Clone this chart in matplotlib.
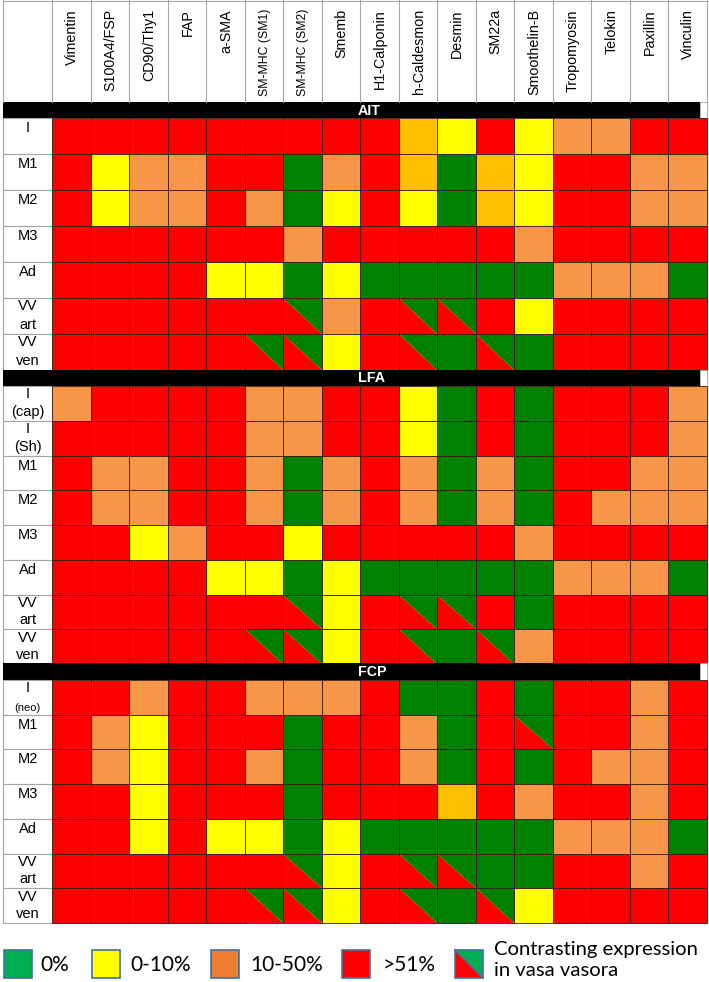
import matplotlib.pyplot as plt
from matplotlib.patches import Rectangle, Polygon

plt.rcParams["font.family"] = ["Liberation Sans", "DejaVu Sans"]

# marker columns
markers = ["Vimentin", "S100A4/FSP", "CD90/Thy1", "FAP", "a-SMA", "SM-MHC (SM1)",
           "SM-MHC (SM2)", "Smemb", "H1-Calponin", "h-Caldesmon", "Desmin", "SM22a",
           "Smoothelin-B", "Tropomyosin", "Telokin", "Paxillin", "Vinculin"]

# R = >51%, O = 10-50%, A = amber, Y = 0-10%, G = 0%, S = contrasting (vasa vasora)
ait_rows = ["I", "M1", "M2", "M3", "Ad", "VV\nart", "VV\nven"]
ait = ["RRRRRRRRRAYRYOORR",
       "RYOORRGORAGAYRROO",
       "RYOOROGYRYGAYRROO",
       "RRRRRRORRRRRORRRR",
       "RRRRYYGYGGGGGOOOG",
       "RRRRRRSORSSRYRRRR",
       "RRRRRSSYRSGSGRRRR"]

lfa_rows = ["I\n(cap)", "I\n(Sh)", "M1", "M2", "M3", "Ad", "VV\nart", "VV\nven"]
lfa = ["ORRRROORRYGRGRRRO",
       "RRRRROORRYGRGRRRO",
       "ROORROGOROGOGRROO",
       "ROORROGOROGOGROOO",
       "RRYORRYRRRRRORRRR",
       "RRRRYYGYGGGGGOOOG",
       "RRRRRRSYRSSRGRRRR",
       "RRRRRSSYRSGSORRRR"]

fcp_rows = ["I\n(neo)", "M1", "M2", "M3", "Ad", "VV\nart", "VV\nven"]
fcp = ["RRORROOORGGRGRROR",
       "ROYRRRGRROGRSRROR",
       "ROYRROGRROGRGROOR",
       "RRYRRRGRRRARORROR",
       "RRYRYYGYGGGGGOOOG",
       "RRRRRRSYRSSGGRROR",
       "RRRRRSSYRSGSYRRRR"]

legend_labels = ["0%", "0-10%", "10-50%", ">51%", "Contrasting expression\nin vasa vasora"]

colors = {"R": "#FF0000", "O": "#F79646", "A": "#FFC000", "Y": "#FFFF00", "G": "#008000"}
legend_colors = ["#00B050", "#FFFF00", "#ED7D31", "#FF0000"]

fig = plt.figure(figsize=(7.09, 9.82), dpi=100)
ax = fig.add_axes([0, 0, 1, 1])
ax.set_xlim(0, 709)
ax.set_ylim(982, 0)
ax.axis("off")

x_lab, x0, cw = 3, 52, 38.5
x_end = x0 + cw * len(markers)
gray = "#A6A6A6"

# header
for i, m in enumerate(markers):
    cx = x0 + cw * (i + 0.5) + 1
    fs = 8.8 if m.startswith("SM-MHC") else 10.3
    ax.text(cx, 9, m, rotation=90, ha="center", va="top", fontsize=fs)
for i in range(len(markers) + 1):
    ax.plot([x0 + cw * i] * 2, [0, 102], color=gray, lw=0.8)
ax.plot([x_lab, x_lab], [0, 102], color=gray, lw=0.8)
ax.plot([x_lab, x_end], [0.5, 0.5], color=gray, lw=0.8)


def draw_section(name, rows, data, bar_top, bar_bot, y_end):
    ax.add_patch(Rectangle((x_lab, bar_top), 700 - x_lab, bar_bot - bar_top, color="black", lw=0))
    ax.add_patch(Rectangle((700, bar_top), x_end - 700, bar_bot - bar_top, fc="white", ec=gray, lw=0.6))
    ax.text(358, (bar_top + bar_bot) / 2 + 0.5, name, color="white", fontweight="bold",
            fontsize=10.3, ha="left", va="center")
    rh = (y_end - bar_bot) / len(rows)
    for r, (lab, codes) in enumerate(zip(rows, data)):
        y = bar_bot + r * rh
        ax.add_patch(Rectangle((x_lab, y), x0 - x_lab, rh, fc="white", ec=gray, lw=0.8))
        parts = lab.split("\n")
        if len(parts) == 1:
            ax.text((x_lab + x0) / 2, y + 3, lab, ha="center", va="top", fontsize=10.5)
        else:
            sub_fs = 8 if parts[1] == "(neo)" else 10.5
            ax.text((x_lab + x0) / 2, y + 1.5, parts[0], ha="center", va="top", fontsize=10.5)
            ax.text((x_lab + x0) / 2, y + rh - 2, parts[1], ha="center", va="bottom",
                    fontsize=sub_fs)
        for c, code in enumerate(codes):
            x = x0 + c * cw
            if code == "S":
                ax.add_patch(Polygon([(x, y), (x, y + rh), (x + cw, y + rh)], fc=colors["R"], lw=0))
                ax.add_patch(Polygon([(x, y), (x + cw, y), (x + cw, y + rh)], fc=colors["G"], lw=0))
                ax.add_patch(Rectangle((x, y), cw, rh, fill=False, ec="#3a1a1a", lw=0.6))
            else:
                ax.add_patch(Rectangle((x, y), cw, rh, fc=colors[code], ec="#3a1a1a", lw=0.6))


draw_section("AIT", ait_rows, ait, 102, 118, 370)
draw_section("LFA", lfa_rows, lfa, 370, 386, 664)
draw_section("FCP", fcp_rows, fcp, 663, 680, 923)

# legend
sq_x = [4, 92, 211, 342, 455]
txt_x = [40, 130, 250, 383, 494]
sq_top, sq_h, sq_w = 950, 28, 28
for i, lab in enumerate(legend_labels):
    x = sq_x[i]
    if i < 4:
        ax.add_patch(Rectangle((x, sq_top), sq_w, sq_h, fc=legend_colors[i], ec="#41719C", lw=1.2))
    else:
        ax.add_patch(Polygon([(x, sq_top), (x, sq_top + sq_h), (x + sq_w, sq_top + sq_h)],
                             fc="#FF0000", lw=0))
        ax.add_patch(Polygon([(x, sq_top), (x + sq_w, sq_top), (x + sq_w, sq_top + sq_h)],
                             fc="#00B050", lw=0))
        ax.plot([x, x + sq_w], [sq_top, sq_top + sq_h], color="#41719C", lw=1.2)
        ax.add_patch(Rectangle((x, sq_top), sq_w, sq_h, fill=False, ec="#41719C", lw=1.2))
    ax.text(txt_x[i], sq_top + sq_h / 2 + (-4 if i == 4 else 1), lab, ha="left", va="center",
            fontsize=15 if i < 4 else 14.6, family="Lato", linespacing=1.25)

fig.savefig("out.png", dpi=100)
